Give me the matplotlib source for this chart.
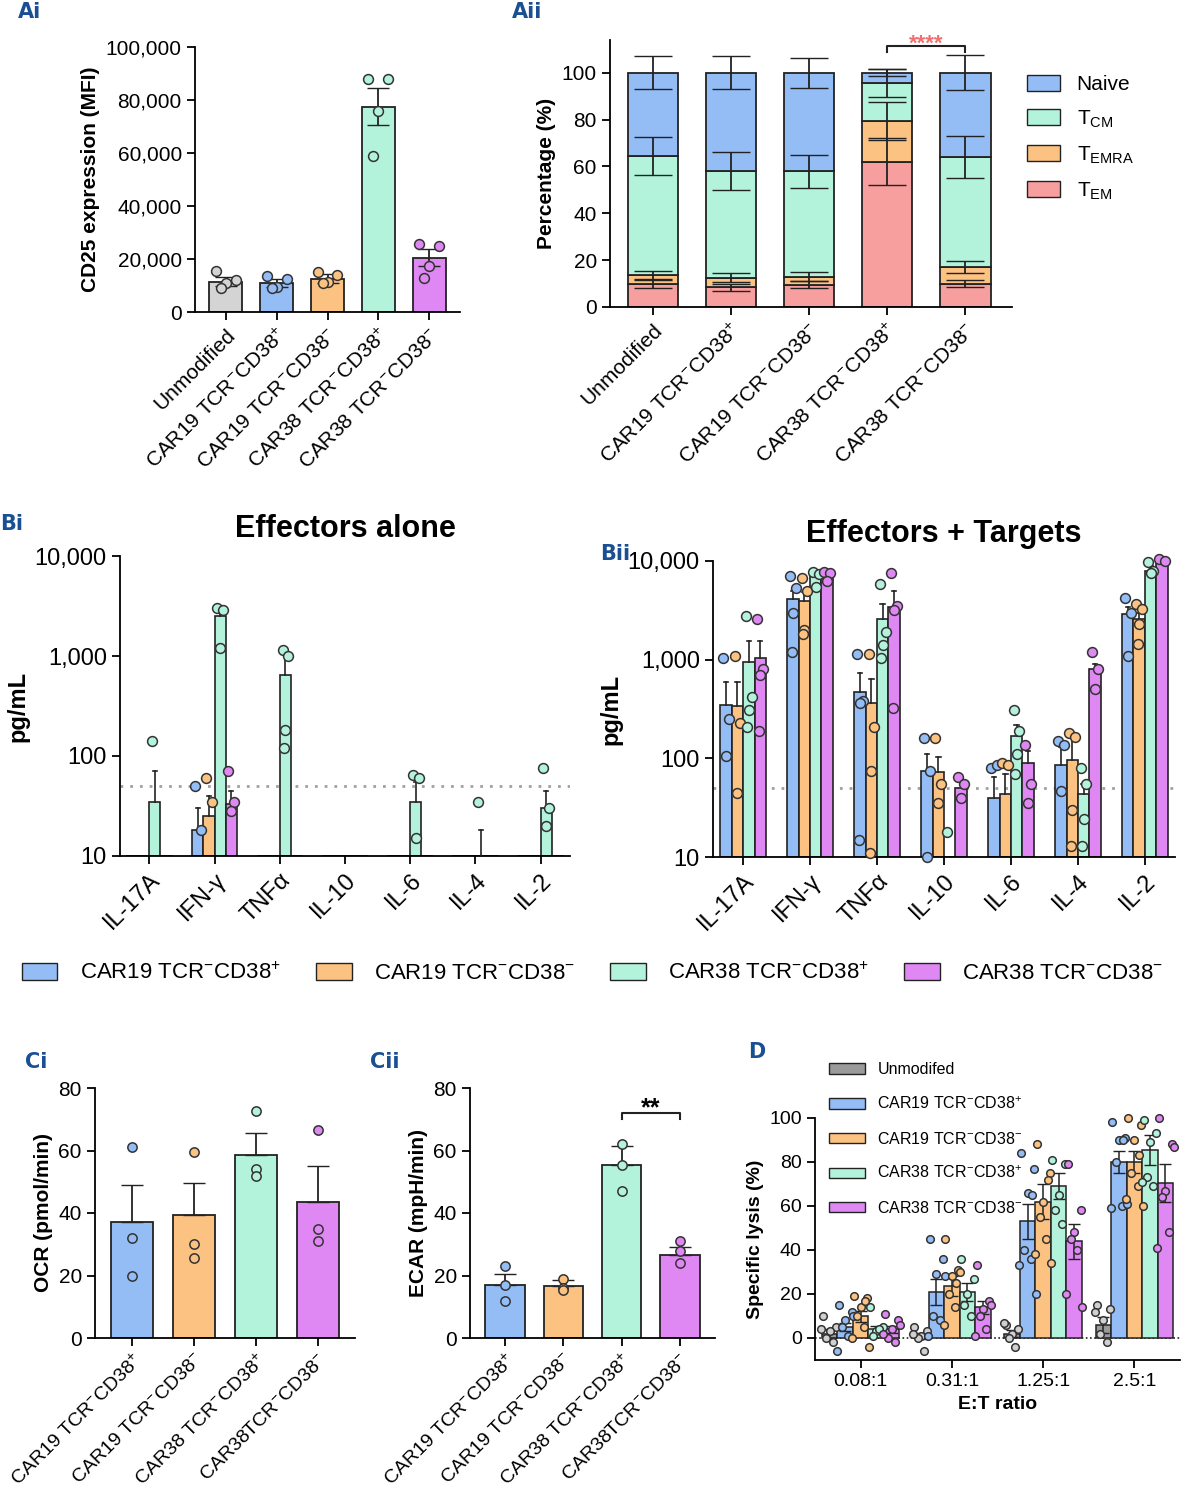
import numpy as np
import matplotlib.pyplot as plt
from matplotlib.ticker import FuncFormatter, FixedLocator, NullLocator
from matplotlib.patches import Patch

plt.rcParams['font.family'] = ['Liberation Sans', 'DejaVu Sans']
plt.rcParams['mathtext.fontset'] = 'custom'
plt.rcParams['mathtext.rm'] = 'Liberation Sans'
plt.rcParams['mathtext.it'] = 'Liberation Sans'
plt.rcParams['axes.linewidth'] = 1.3

# ---------------- data ----------------
grp4 = ['CAR19 TCR$^{-}$CD38$^{+}$', 'CAR19 TCR$^{-}$CD38$^{-}$',
        'CAR38 TCR$^{-}$CD38$^{+}$', 'CAR38 TCR$^{-}$CD38$^{-}$']
grp5 = ['Unmodified'] + grp4
c_gray, c_blue, c_orange, c_green, c_purple = '#d4d4d4', '#94bdf6', '#fcc282', '#b3f3dc', '#df88f3'
cols5 = [c_gray, c_blue, c_orange, c_green, c_purple]
cols4 = cols5[1:]

# Ai CD25
cd25_mean = [11500, 11000, 12500, 77500, 20500]
cd25_sem = [1800, 1600, 1700, 7000, 3200]
cd25_pts = [[15500, 12000, 11000, 9000], [13500, 12500, 9500, 9000],
            [15000, 14000, 11500, 11000], [88000, 88000, 76000, 59000],
            [25500, 25000, 17500, 13000]]

# Aii memory subsets
tem = [10, 8.5, 9.5, 62, 10]
temra = [3.5, 4, 3.5, 17.5, 7]
tcm = [51, 45.5, 45, 16, 47]
naive = [35.5, 42, 42, 4.5, 36]
err_tem = [2, 1.5, 1.5, 10, 1.5]
err_temra = [2, 2, 2, 8, 2.5]
err_tcm = [8, 8, 7, 6, 9]
err_naive = [7, 7, 6.5, 1.5, 7.5]

# B cytokines
cyto = ['IL-17A', 'IFN-γ', 'TNFα', 'IL-10', 'IL-6', 'IL-4', 'IL-2']
nan = np.nan
alone_mean = [[nan, 18, nan, nan, nan, nan, nan],
              [nan, 25, nan, nan, nan, nan, nan],
              [35, 2500, 650, nan, 35, 10, 30],
              [nan, 33, nan, nan, nan, nan, nan]]
alone_err = [[nan, 30, nan, nan, nan, nan, nan],
             [nan, 40, nan, nan, nan, nan, nan],
             [70, 3000, 1150, nan, 55, 18, 45],
             [nan, 45, nan, nan, nan, nan, nan]]
alone_pts = [[[], [50, 18], [], [], [], [], []],
             [[], [60, 35], [], [], [], [], []],
             [[140], [3000, 2900, 1200], [1150, 1000, 180, 120], [], [65, 60, 15], [35], [75, 30, 20]],
             [[], [70, 35, 28], [], [], [], [], []]]

targ_mean = [[350, 4100, 470, 75, 40, 85, 2900],
             [340, 3900, 360, 72, 43, 97, 2600],
             [950, 7500, 2600, 10, 170, 43, 8000],
             [1050, 7800, 3400, 50, 90, 800, 10200]]
targ_err = [[600, 5000, 730, 110, 65, 130, 3400],
            [600, 4800, 640, 102, 70, 170, 3000],
            [1550, 8000, 3700, nan, 220, 55, 9000],
            [1550, 8000, 5000, nan, 120, 900, 10500]]
targ_pts = [[[1050, 250, 105], [7000, 5300, 3000, 1200], [1150, 380, 360, 15], [160, 75, 10], [80, 85], [150, 135, 47], [4200, 3000, 1100]],
            [[1100, 230, 45], [6800, 5000, 2000, 1800], [1150, 210, 75, 11], [160, 55, 35], [90, 85], [180, 165, 30, 13], [3700, 3300, 2300, 1450]],
            [[2800, 420, 310, 210], [7700, 7300, 5500], [5800, 1900, 1400, 1050], [18], [310, 190, 110, 70], [80, 55, 24, 13], [9700, 8000, 7500]],
            [[2600, 800, 700, 190], [7800, 7600, 6300], [7500, 3500, 3200, 320], [65, 55, 40], [135, 55, 35], [1200, 800, 500], [10500, 10000]]]
lod = 50

# C metabolism
ocr_mean = [37, 39.5, 58.5, 43.5]
ocr_sem = [12, 10, 7, 11.5]
ocr_pts = [[61, 32, 20], [59.5, 30, 25.5], [72.5, 54, 52], [66.5, 35, 31]]
ecar_mean = [17, 16.5, 55.5, 26.5]
ecar_sem = [3.5, 2, 6, 2.5]
ecar_pts = [[23, 17, 12], [19, 16, 15.5], [62, 55.5, 47], [31, 28, 24]]
c_labels = ['CAR19 TCR$^{-}$CD38$^{+}$', 'CAR19 TCR$^{-}$CD38$^{-}$',
            'CAR38 TCR$^{-}$CD38$^{+}$', 'CAR38TCR$^{-}$CD38$^{-}$']

# D lysis
ratios = ['0.08:1', '0.31:1', '1.25:1', '2.5:1']
lys_labels = ['Unmodifed'] + grp4
lys_mean = [[2, 1, 2, 6], [5, 21, 53, 80], [10, 23.5, 62, 80], [4, 21, 69, 85.5], [4, 14, 44, 70.5]]
lys_sem = [[2, 1.5, 1.5, 3.5], [2, 6, 8, 5], [2.5, 4.5, 8, 5], [1.5, 4, 6, 7], [1.5, 3, 8, 8.5]]
lys_pts = [[[10, 5, 3, 0, -2, 4], [5, 3, 1, 0, -6, 2], [6, 4, 2, 0, -4, 7], [15, 13, 8, 2, -2, 12]],
           [[15, 12, 8, 5, 1, -6, 10], [45, 36, 29, 10, 8, 1, 28], [84, 77, 66, 40, 36, 33, 20, 65], [98, 91, 90, 80, 60, 59, 61, 90]],
           [[19, 18, 14, 10, 5, 0, -4, 17], [45, 31, 28, 20, 14, 6, 30, 25], [88, 75, 62, 55, 45, 38, 34, 72], [100, 97, 90, 75, 69, 63, 60, 83]],
           [[14, 5, 3, 1, 4], [36, 27, 20, 15, 10], [81, 79, 65, 58, 52], [99, 93, 89, 73, 69, 71]],
           [[11, 8, 4, 0, -2, 2, 6], [33, 17, 13, 10, 4, 1, 15], [79, 58, 48, 45, 40, 20, 14], [100, 88, 67, 64, 48, 41, 87]]]

# ---------------- figure ----------------
W, H = 1185, 1494
fig = plt.figure(figsize=(W / 100, H / 100), dpi=100)


def ax_px(x0, y0, x1, y1):
    return fig.add_axes([x0 / W, 1 - y1 / H, (x1 - x0) / W, (y1 - y0) / H])


def label(x, y, s):
    fig.text(x / W, 1 - y / H, s, fontsize=15, fontweight='bold', color='#1b4f93',
             va='center', ha='left', family='DejaVu Sans')


jit = [-0.14, 0.14, 0.0, -0.07, 0.07, -0.18, 0.18, 0.1, -0.1]


def scatter_pts(ax, x, pts, color, w, s=45):
    for k, v in enumerate(pts):
        ax.scatter(x + jit[k % len(jit)] * w, v, s=s, facecolor=color, edgecolor='#333333',
                   linewidth=1.1, zorder=4, clip_on=False)


def style(ax):
    for sp in ['top', 'right']:
        ax.spines[sp].set_visible(False)
    ax.tick_params(width=1.3, length=6, labelsize=15)


comma = FuncFormatter(lambda v, p: '{:,.0f}'.format(v))

# Ai
ax = ax_px(195, 47, 460, 312)
x = np.arange(5)
ax.bar(x, cd25_mean, 0.65, color=cols5, edgecolor='#222222', linewidth=1.3, zorder=2)
ax.errorbar(x, cd25_mean, yerr=cd25_sem, fmt='none', ecolor='#222222', elinewidth=1.3, capsize=8, zorder=3)
for i in range(5):
    scatter_pts(ax, x[i], cd25_pts[i], cols5[i], 1.4, s=50)
ax.set_ylim(0, 100000)
ax.set_xlim(-0.6, 4.6)
ax.yaxis.set_major_formatter(comma)
ax.set_yticks(np.arange(0, 100001, 20000))
ax.set_xticks(x)
ax.set_xticklabels(grp5, rotation=45, ha='right', rotation_mode='anchor')
ax.set_ylabel('CD25 expression (MFI)', fontsize=15, fontweight='bold')
style(ax)
label(18, 12, 'Ai')

# Aii
ax = ax_px(610, 40, 1012, 307)
x = np.arange(5)
bottoms = np.zeros(5)
layers = [(tem, err_tem, '#f79e9e', 'T$_{\\mathrm{EM}}$'), (temra, err_temra, '#fcc282', 'T$_{\\mathrm{EMRA}}$'),
          (tcm, err_tcm, '#b3f3dc', 'T$_{\\mathrm{CM}}$'), (naive, err_naive, '#94bdf6', 'Naive')]
handles = []
for vals, errs, col, lab in layers:
    ax.bar(x, vals, 0.65, bottom=bottoms, color=col, edgecolor='#222222', linewidth=1.3, zorder=2)
    bottoms = bottoms + np.array(vals)
    ax.errorbar(x, bottoms, yerr=errs, fmt='none', ecolor='#222222', elinewidth=1.3, capsize=14, zorder=3)
    handles.append(Patch(facecolor=col, edgecolor='#222222', label=lab))
ax.set_ylim(0, 114)
ax.set_xlim(-0.55, 4.6)
ax.set_yticks(np.arange(0, 101, 20))
ax.set_xticks(x)
ax.set_xticklabels(grp5, rotation=45, ha='right', rotation_mode='anchor')
ax.set_ylabel('Percentage (%)', fontsize=15, fontweight='bold')
ax.plot([3, 3, 4, 4], [109, 111.5, 111.5, 109], color='#222222', lw=1.5)
ax.text(3.5, 112, '****', color='#f07070', fontsize=16, fontweight='bold', ha='center', va='center')
style(ax)
ax.legend(handles=handles[::-1], loc='upper left', bbox_to_anchor=(0.99, 0.94), frameon=False,
          fontsize=15, handlelength=1.6, handleheight=0.8, labelspacing=0.7)
label(512, 12, 'Aii')


def cyto_panel(ax, means, errs, pts, title):
    n = len(cyto)
    w = 0.17
    xs = np.arange(n)
    for g in range(4):
        xg = xs + (g - 1.5) * w
        m = np.array(means[g], float)
        e = np.array(errs[g], float)
        ax.bar(xg, np.nan_to_num(m, nan=0) - 10, w, bottom=10, color=cols4[g], edgecolor='#222222', linewidth=1.2, zorder=2)
        for i in range(n):
            if not np.isnan(e[i]):
                ax.plot([xg[i], xg[i]], [m[i], e[i]], color='#222222', lw=1.2, zorder=3)
                ax.plot([xg[i] - w * 0.2, xg[i] + w * 0.2], [e[i], e[i]], color='#222222', lw=1.2, zorder=3)
            scatter_pts(ax, xg[i], pts[g][i], cols4[g], 0.3, s=50)
    ax.axhline(lod, color='#a0a0a0', ls=(0, (1, 2.5)), lw=2, zorder=1)
    ax.set_yscale('log')
    ax.set_ylim(10, 10000)
    ax.yaxis.set_major_locator(FixedLocator([10, 100, 1000, 10000]))
    ax.yaxis.set_minor_locator(NullLocator())
    ax.yaxis.set_major_formatter(comma)
    ax.set_xlim(-0.45, n - 0.55)
    ax.set_xticks(xs)
    ax.set_xticklabels(cyto, rotation=45, ha='right', rotation_mode='anchor')
    ax.set_ylabel('pg/mL', fontsize=17, fontweight='bold')
    ax.set_title(title, fontsize=22, fontweight='bold', pad=14)
    style(ax)
    ax.tick_params(labelsize=17)


ax = ax_px(120, 556, 570, 856)
cyto_panel(ax, alone_mean, alone_err, alone_pts, 'Effectors alone')
label(0, 524, 'Bi')
ax = ax_px(713, 561, 1175, 857)
cyto_panel(ax, targ_mean, targ_err, targ_pts, 'Effectors + Targets')
label(600, 554, 'Bii')

fig.legend(handles=[Patch(facecolor=c, edgecolor='#222222', label=l) for c, l in zip(cols4, grp4)],
           loc='center', bbox_to_anchor=(0.5, 1 - 973 / H), ncol=4, frameon=False, fontsize=16,
           handlelength=1.6, handleheight=0.8, columnspacing=1.6, handletextpad=1.0)


def c_panel(ax, means, sems, pts, ylab):
    x = np.arange(4)
    ax.bar(x, means, 0.68, color=cols4, edgecolor='#222222', linewidth=1.3, zorder=2)
    ax.errorbar(x, means, yerr=[np.zeros(4), sems], fmt='none', ecolor='#222222', elinewidth=1.3, capsize=8, zorder=3)
    for i in range(4):
        scatter_pts(ax, x[i], pts[i], cols4[i], 0.0, s=45)
    ax.set_ylim(0, 80)
    ax.set_xlim(-0.6, 3.6)
    ax.set_yticks(np.arange(0, 81, 20))
    ax.set_xticks(x)
    ax.set_xticklabels(c_labels, rotation=45, ha='right', rotation_mode='anchor')
    ax.set_ylabel(ylab, fontsize=15, fontweight='bold')
    style(ax)
    ax.tick_params(axis='x', labelsize=14)


ax = ax_px(95, 1088, 355, 1338)
c_panel(ax, ocr_mean, ocr_sem, ocr_pts, 'OCR (pmol/min)')
label(25, 1062, 'Ci')
ax = ax_px(470, 1088, 715, 1338)
c_panel(ax, ecar_mean, ecar_sem, ecar_pts, 'ECAR (mpH/min)')
ax.plot([2, 2, 3, 3], [70, 72, 72, 70], color='#222222', lw=1.5)
ax.text(2.5, 73.5, '**', fontsize=18, fontweight='bold', ha='center', va='center')
label(370, 1062, 'Cii')

# D
ax = ax_px(815, 1118, 1180, 1360)
cols_d = ['#9a9a9a'] + cols4
w = 0.17
xs = np.arange(4)
for g in range(5):
    xg = xs + (g - 2) * w
    ax.bar(xg, lys_mean[g], w, color=cols_d[g], edgecolor='#222222', linewidth=1.1, zorder=2)
    ax.errorbar(xg, lys_mean[g], yerr=lys_sem[g], fmt='none', ecolor='#222222', elinewidth=1.1, capsize=4, zorder=3)
    for i in range(4):
        scatter_pts(ax, xg[i], lys_pts[g][i], cols_d[g] if g else '#d0d0d0', 0.5, s=30)
ax.axhline(0, color='#222222', ls=(0, (1, 1.5)), lw=1.2, zorder=1)
ax.set_ylim(-10, 100)
ax.set_xlim(-0.5, 3.5)
ax.set_yticks(np.arange(0, 101, 20))
ax.set_xticks(xs)
ax.set_xticklabels(ratios)
ax.set_xlabel('E:T ratio', fontsize=14, fontweight='bold')
ax.set_ylabel('Specific lysis (%)', fontsize=14, fontweight='bold')
style(ax)
ax.tick_params(labelsize=14)
ax.legend(handles=[Patch(facecolor=c, edgecolor='#222222', label=l) for c, l in zip(cols_d, lys_labels)],
          loc='upper left', bbox_to_anchor=(0.0, 1.29), frameon=False, fontsize=11.5,
          handlelength=2.2, handleheight=0.6, labelspacing=1.15)
label(748, 1052, 'D')

fig.savefig('out.png', dpi=100, facecolor='white')
